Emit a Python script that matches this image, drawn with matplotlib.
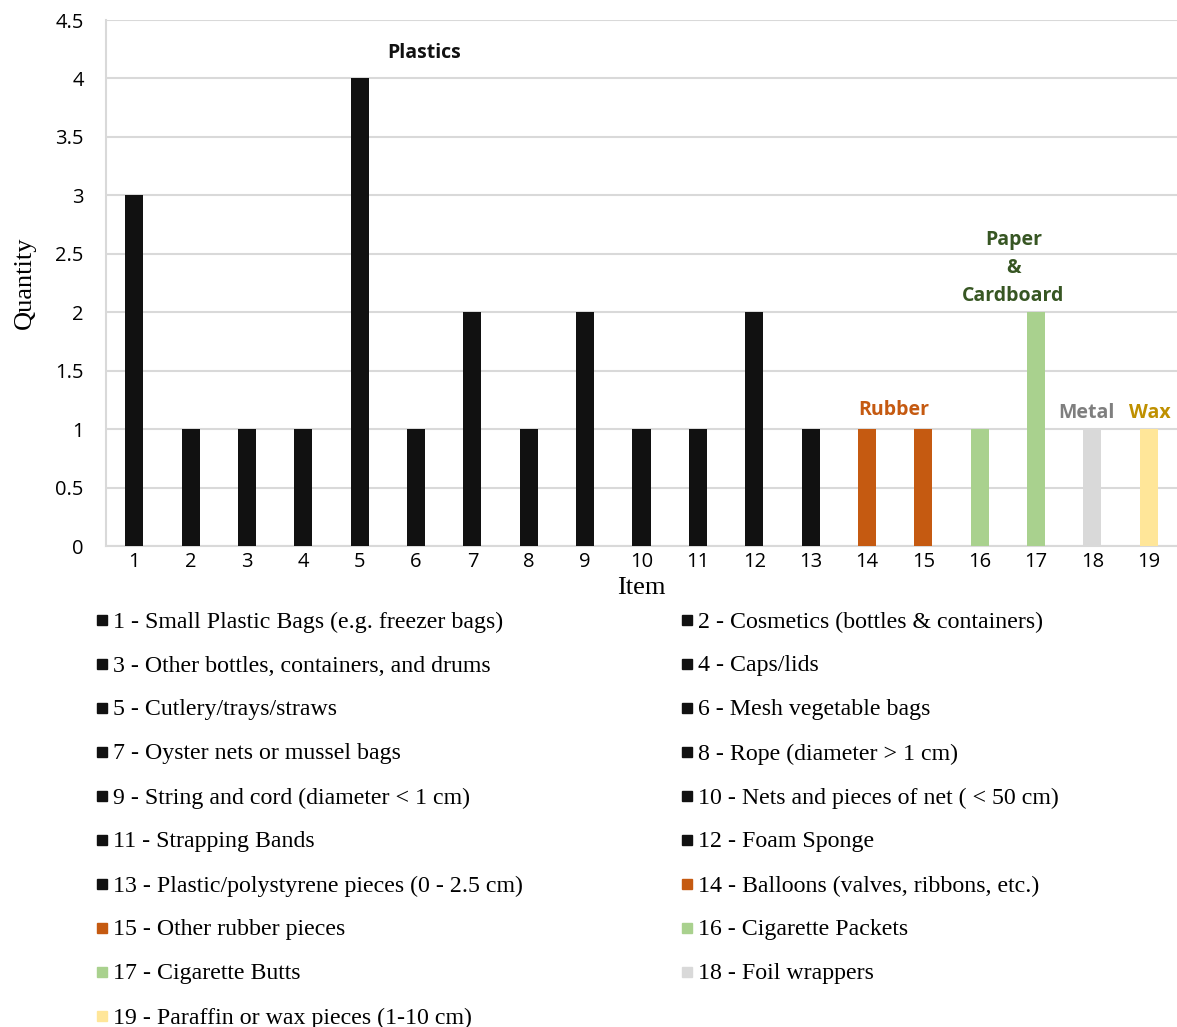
import matplotlib; matplotlib.use("Agg")
import matplotlib.pyplot as plt
from matplotlib.patches import Rectangle

items = list(range(1, 20))
quantity = [3, 1, 1, 1, 4, 1, 2, 1, 2, 1, 1, 2, 1, 1, 1, 1, 2, 1, 1]
material = ["plastic"] * 13 + ["rubber"] * 2 + ["paper"] * 2 + ["metal", "wax"]
descriptions = [
    "Small Plastic Bags (e.g. freezer bags)",
    "Cosmetics (bottles & containers)",
    "Other bottles, containers, and drums",
    "Caps/lids",
    "Cutlery/trays/straws",
    "Mesh vegetable bags",
    "Oyster nets or mussel bags",
    "Rope (diameter > 1 cm)",
    "String and cord (diameter < 1 cm)",
    "Nets and pieces of net ( < 50 cm)",
    "Strapping Bands",
    "Foam Sponge",
    "Plastic/polystyrene pieces (0 - 2.5 cm)",
    "Balloons (valves, ribbons, etc.)",
    "Other rubber pieces",
    "Cigarette Packets",
    "Cigarette Butts",
    "Foil wrappers",
    "Paraffin or wax pieces (1-10 cm)",
]

bar_col = dict(plastic="#111111", rubber="#C55A11", paper="#A9D18E",
               metal="#D9D9D9", wax="#FFE699")
# group labels: text, x, y, colour
groups = [
    ("Plastics", 6.15, 4.22, "#111111"),
    ("Rubber", 14.47, 1.16, "#C55A11"),
    ("Paper\n&\nCardboard", 16.6, 2.38, "#375623"),
    ("Metal", 17.9, 1.14, "#7F7F7F"),
    ("Wax", 19.02, 1.14, "#BF9000"),
]

W, H = 1177, 1027
fig = plt.figure(figsize=(W / 100, H / 100), dpi=100)
ax = fig.add_axes([106 / W, 1 - 546 / H, 1 - 106 / W, (546 - 20) / H])

ax.bar(items, quantity, width=0.32, color=[bar_col[m] for m in material], zorder=3)
ax.set_xlim(0.5, 19.5)
ax.set_ylim(0, 4.5)
ax.set_yticks([i * 0.5 for i in range(10)])
ax.set_yticklabels(["0", "0.5", "1", "1.5", "2", "2.5", "3", "3.5", "4", "4.5"])
ax.set_xticks(items)
ax.grid(axis="y", color="#D9D9D9", lw=1.5, zorder=0)
ax.tick_params(length=0, labelsize=14.5)
ax.tick_params(axis="y", pad=16)
ax.tick_params(axis="x", pad=4)
for lab in ax.get_xticklabels() + ax.get_yticklabels():
    lab.set_family("Open Sans")
for s in ["top", "right"]:
    ax.spines[s].set_visible(False)
for s in ["left", "bottom"]:
    ax.spines[s].set_color("#D9D9D9")
    ax.spines[s].set_linewidth(1.5)

ax.set_ylabel("Quantity", family="Liberation Serif", fontsize=19, labelpad=14)
ax.set_xlabel("Item", family="Liberation Serif", fontsize=19, labelpad=4)

for txt, x, y, c in groups:
    ax.text(x, y, txt, ha="center", va="center", fontsize=14, fontweight="bold",
            color=c, family="Open Sans", linespacing=1.55)

# two-column key under the chart, filled row by row
for i, (n, d, m) in enumerate(zip(items, descriptions, material)):
    row, col = divmod(i, 2)
    y = 620 + 44 * row
    x = 97 if col == 0 else 682
    fig.patches.append(Rectangle((x / W, 1 - (y + 5) / H), 10 / W, 10 / H,
                                 transform=fig.transFigure, color=bar_col[m]))
    fig.text((x + 16) / W, 1 - (y + 2) / H, f"{n} - {d}", ha="left", va="center",
             fontsize=17.2, family="Liberation Serif")

plt.savefig("out.png", dpi=100)
